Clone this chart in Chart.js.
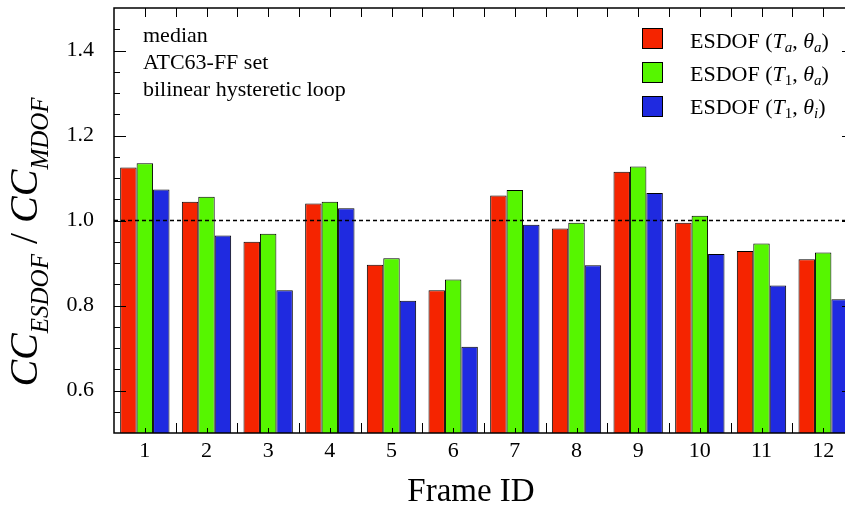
<!DOCTYPE html>
<html>
<head>
<meta charset="utf-8">
<script src="https://cdn.jsdelivr.net/npm/chart.js@4"></script>
<style>
  html, body { margin: 0; padding: 0; background: #fff; overflow: hidden; }
  #marco { width: 845px; height: 506px; overflow: hidden; position: relative; }
  canvas { display: block; position: absolute; left: 0; top: 0; }
</style>
</head>
<body>
<div id="marco"><canvas id="grafico" width="860" height="506"></canvas></div>
<script>
var frames = ["1", "2", "3", "4", "5", "6", "7", "8", "9", "10", "11", "12"];
var ccTaThetaA = [1.125, 1.044, 0.950, 1.040, 0.896, 0.836, 1.059, 0.981, 1.115, 0.995, 0.928, 0.909];
var ccT1ThetaA = [1.135, 1.056, 0.969, 1.044, 0.911, 0.861, 1.072, 0.995, 1.127, 1.011, 0.946, 0.925];
var ccT1ThetaI = [1.073, 0.965, 0.836, 1.029, 0.811, 0.703, 0.990, 0.895, 1.065, 0.921, 0.847, 0.815];
var yLabels = [0.6, 0.8, 1.0, 1.2, 1.4];
var notas = ["median", "ATC63-FF set", "bilinear hysteretic loop"];

var SERIF = "'Liberation Serif', 'Times New Roman', serif";

// texto con subindices: partes [texto, tamano, cursiva, desplazamiento]
function textoRico(ctx, x, y, partes, centrar) {
  var total = 0;
  partes.forEach(function (p) {
    ctx.font = (p[2] ? "italic " : "") + p[1] + "px " + SERIF;
    total += ctx.measureText(p[0]).width;
  });
  var cx = centrar ? x - total / 2 : x;
  ctx.textBaseline = "alphabetic";
  ctx.textAlign = "left";
  partes.forEach(function (p) {
    ctx.font = (p[2] ? "italic " : "") + p[1] + "px " + SERIF;
    ctx.fillText(p[0], cx, y + (p[3] || 0));
    cx += ctx.measureText(p[0]).width;
  });
}

var extras = {
  id: "extras",
  afterDatasetsDraw: function (chart) {
    var ctx = chart.ctx, a = chart.chartArea, y = chart.scales.y;
    var py = y.getPixelForValue(1.0);
    ctx.save();
    ctx.strokeStyle = "#000";
    ctx.lineWidth = 1.5;
    ctx.setLineDash([4, 3]);
    ctx.beginPath();
    ctx.moveTo(a.left, py);
    ctx.lineTo(a.right, py);
    ctx.stroke();
    ctx.restore();
  },
  afterDraw: function (chart) {
    var ctx = chart.ctx, a = chart.chartArea;
    var x = chart.scales.x, y = chart.scales.y;
    ctx.save();
    ctx.strokeStyle = "#000";
    ctx.fillStyle = "#000";
    ctx.lineWidth = 1;

    // ticks hacia adentro en el eje y (izquierda todos, derecha solo mayores)
    y.ticks.forEach(function (t) {
      var v = t.value;
      if (v < 0.52 || v > 1.48) return;
      var mayor = Math.abs(v * 5 - Math.round(v * 5)) < 1e-6;
      var len = mayor ? 12 : 6;
      var p = Math.round(y.getPixelForValue(v)) + 0.5;
      ctx.beginPath();
      ctx.moveTo(a.left, p); ctx.lineTo(a.left + len, p);
      if (mayor) { ctx.moveTo(a.right, p); ctx.lineTo(a.right - len, p); }
      ctx.stroke();
    });

    // ticks del eje x: centro corto, limites largos
    for (var i = 0; i < frames.length; i++) {
      var c = Math.round(x.getPixelForTick(i)) + 0.5;
      ctx.beginPath();
      ctx.moveTo(c, a.bottom); ctx.lineTo(c, a.bottom - 5);
      ctx.moveTo(c, a.top); ctx.lineTo(c, a.top + 9);
      ctx.stroke();
      if (i < frames.length - 1) {
        var b = Math.round((x.getPixelForTick(i) + x.getPixelForTick(i + 1)) / 2) + 0.5;
        ctx.beginPath();
        ctx.moveTo(b, a.bottom); ctx.lineTo(b, a.bottom - 10);
        ctx.moveTo(b, a.top); ctx.lineTo(b, a.top + 9);
        ctx.stroke();
      }
    }

    // marco (izquierda, arriba, abajo)
    ctx.lineWidth = 1.5;
    ctx.beginPath();
    ctx.moveTo(a.right, a.top);
    ctx.lineTo(a.left, a.top);
    ctx.lineTo(a.left, a.bottom);
    ctx.lineTo(a.right, a.bottom);
    ctx.stroke();

    // notas arriba a la izquierda
    notas.forEach(function (n, k) {
      textoRico(ctx, 143, 42 + k * 27, [[n, 22, false]], false);
    });

    // leyenda
    var subs = [["a", true], ["1", false], ["1", false]];
    var thetas = ["a", "a", "i"];
    chart.data.datasets.forEach(function (ds, k) {
      var top = 28 + k * 34;
      ctx.fillStyle = ds.backgroundColor;
      ctx.fillRect(642, top, 20, 20);
      ctx.lineWidth = 1;
      ctx.strokeRect(642.5, top + 0.5, 20, 20);
      ctx.fillStyle = "#000";
      textoRico(ctx, 690, 48 + k * 33, [
        ["ESDOF (", 22, false],
        ["T", 22, true],
        [subs[k][0], 15, subs[k][1], 4],
        [", ", 22, false],
        ["\u03b8", 22, true],
        [thetas[k], 15, true, 4],
        [")", 22, false]
      ], false);
    });

    // titulo del eje x
    textoRico(ctx, 471, 501, [["Frame ID", 33, false]], true);

    // titulo del eje y
    ctx.translate(37, 242);
    ctx.rotate(-Math.PI / 2);
    textoRico(ctx, 0, 0, [
      ["CC", 40, true],
      ["ESDOF", 25, true, 11],
      [" / ", 40, false],
      ["CC", 40, true],
      ["MDOF", 25, true, 11]
    ], true);
    ctx.restore();
  }
};

document.addEventListener("DOMContentLoaded", function () {
  var ctx = document.getElementById("grafico").getContext("2d");
  new Chart(ctx, {
    type: "bar",
    data: {
      labels: frames,
      datasets: [
        { label: "ESDOF (Ta, θa)", data: ccTaThetaA, backgroundColor: "rgb(245,36,0)" },
        { label: "ESDOF (T1, θa)", data: ccT1ThetaA, backgroundColor: "rgb(86,246,0)" },
        { label: "ESDOF (T1, θi)", data: ccT1ThetaI, backgroundColor: "rgb(31,42,224)" }
      ]
    },
    options: {
      responsive: false,
      animation: false,
      devicePixelRatio: 1,
      layout: { padding: { left: 0, top: 8, right: 6, bottom: 0 } },
      datasets: {
        bar: {
          borderColor: "#000",
          borderWidth: 1,
          categoryPercentage: 0.8,
          barPercentage: 1.0
        }
      },
      scales: {
        x: {
          grid: { display: false, drawTicks: false },
          border: { display: false },
          ticks: {
            color: "#000",
            padding: 5,
            maxRotation: 0,
            font: { family: SERIF, size: 22 }
          },
          afterFit: function (s) {
            s.height = 73;
            s.paddingLeft = 0;
            s.paddingRight = 0;
          }
        },
        y: {
          min: 0.5,
          max: 1.5,
          grid: { display: false, drawTicks: false },
          border: { display: false },
          ticks: {
            stepSize: 0.05,
            autoSkip: false,
            color: "#000",
            padding: 20,
            font: { family: SERIF, size: 22 },
            callback: function (v) {
              for (var i = 0; i < yLabels.length; i++) {
                if (Math.abs(v - yLabels[i]) < 1e-6) return yLabels[i].toFixed(1);
              }
              return "";
            }
          },
          afterFit: function (s) {
            s.width = 114;
            s.paddingTop = 0;
            s.paddingBottom = 0;
          }
        }
      },
      plugins: {
        legend: { display: false },
        tooltip: { enabled: false }
      }
    },
    plugins: [extras]
  });
});
</script>
</body>
</html>
